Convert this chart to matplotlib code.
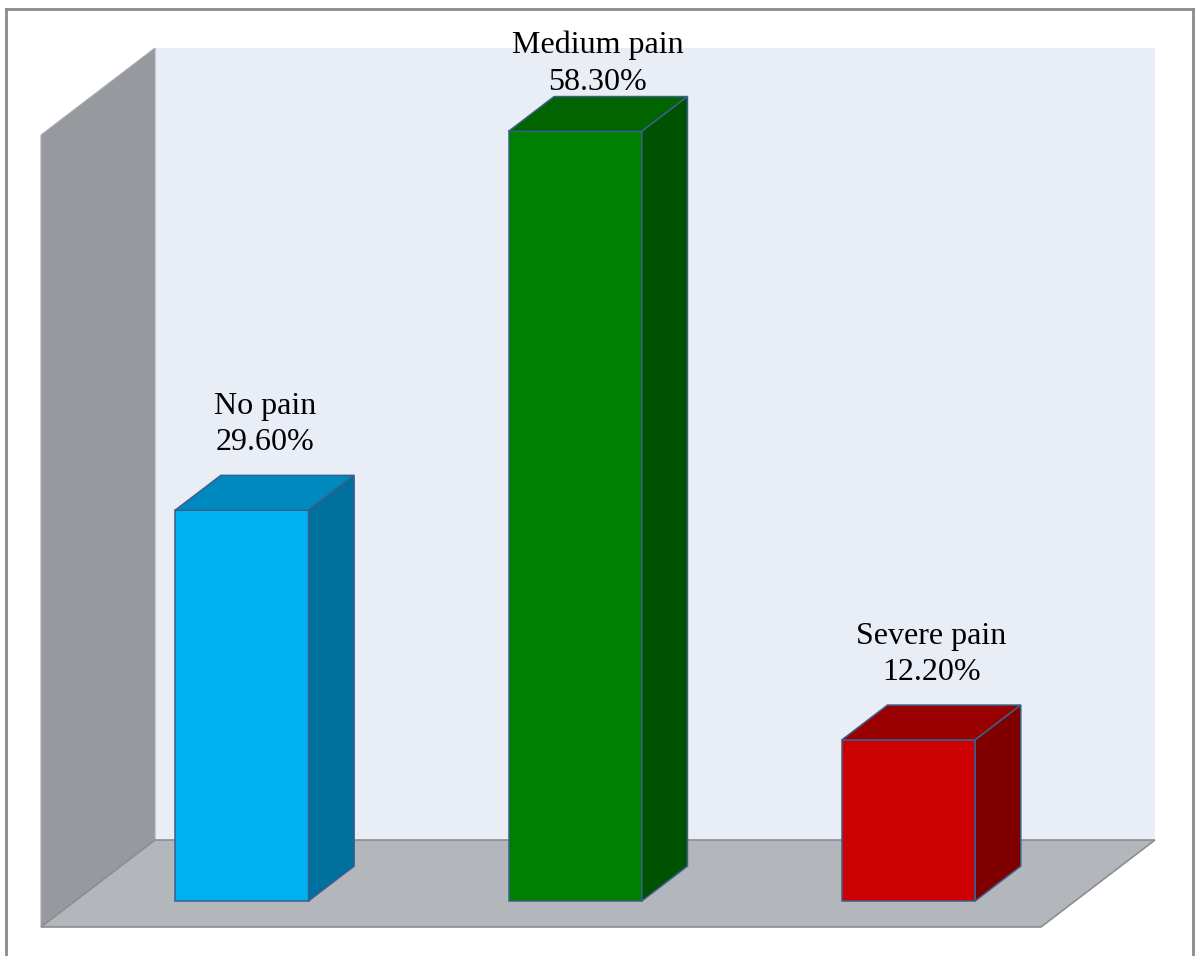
import matplotlib
matplotlib.use("Agg")
import matplotlib.pyplot as plt
from matplotlib.patches import Polygon
from matplotlib.lines import Line2D

# Data
categories = ["No pain", "Medium pain", "Severe pain"]
values = [29.6, 58.3, 12.2]
value_labels = ["29.60%", "58.30%", "12.20%"]
axis_max = 60

# Bar colours: (front, top, side)
bar_colors = [
    ("#00B0F0", "#0089BF", "#00709F"),
    ("#008000", "#006400", "#005200"),
    ("#CC0000", "#990000", "#800000"),
]
edge_color = "#3B5E8C"

W, H, DPI = 1198, 956, 100
fig = plt.figure(figsize=(W / DPI, H / DPI), dpi=DPI)
fig.patch.set_facecolor("white")
ax = fig.add_axes([0, 0, 1, 1])
ax.set_axis_off()

# Oblique projection: x in category slots, y in percent, depth d in [0, 1]
slot_px = 333.33
unit_px = 13.2
origin_px = (41, 927)          # front-left-bottom corner of the floor
depth_vec = (114 / slot_px, 87 / unit_px)
ax.set_xlim(-origin_px[0] / slot_px, (W - origin_px[0]) / slot_px)
ax.set_ylim(-(H - origin_px[1]) / unit_px, origin_px[1] / unit_px)


def P(x, v, d):
    return (x + d * depth_vec[0], v + d * depth_vec[1])


n = len(categories)

# Walls and floor
back = [P(0, 0, 1), P(n, 0, 1), P(n, axis_max, 1), P(0, axis_max, 1)]
left = [P(0, 0, 0), P(0, 0, 1), P(0, axis_max, 1), P(0, axis_max, 0)]
floor = [P(0, 0, 0), P(n, 0, 0), P(n, 0, 1), P(0, 0, 1)]
ax.add_patch(Polygon(back, closed=True, facecolor="#E9EDF6", edgecolor="none", zorder=1))
ax.add_patch(Polygon(left, closed=True, facecolor="#96999E", edgecolor="#A8AAAE", lw=0.8, zorder=2))
ax.add_patch(Polygon(floor, closed=True, facecolor="#B3B6BB", edgecolor="#8C8D90", lw=1.2, zorder=2))

# Bars
bar_w = 0.4
d0, d1 = 0.3, 0.7
label_pad = 2.7
label_ceiling = 62.9

for i, (cat, val, lab, cols) in enumerate(zip(categories, values, value_labels, bar_colors)):
    xl = i + 0.5 - bar_w / 2
    xr = i + 0.5 + bar_w / 2
    front = [P(xl, 0, d0), P(xr, 0, d0), P(xr, val, d0), P(xl, val, d0)]
    top = [P(xl, val, d0), P(xr, val, d0), P(xr, val, d1), P(xl, val, d1)]
    side = [P(xr, 0, d0), P(xr, 0, d1), P(xr, val, d1), P(xr, val, d0)]
    for poly, c in ((front, cols[0]), (top, cols[1]), (side, cols[2])):
        ax.add_patch(Polygon(poly, closed=True, facecolor=c, edgecolor=edge_color,
                             lw=1.1, joinstyle="miter", zorder=3 + i))
    cx, cy = P(i + 0.5, val, 0.5)
    ty = min(cy + label_pad, label_ceiling)
    ax.text(cx, ty, f"{cat}\n{lab}", ha="center", va="bottom",
            fontsize=23, family="Liberation Serif", color="black",
            linespacing=1.33, zorder=10)

# Chart frame
fx0, fx1, fy1 = 6 / W, 1193 / W, 1 - 9 / H
for xs, ys in (([fx0, fx0], [-0.01, fy1]), ([fx0, fx1], [fy1, fy1]), ([fx1, fx1], [fy1, -0.01])):
    fig.add_artist(Line2D(xs, ys, transform=fig.transFigure, color="#8A8A8A", lw=2.0))

fig.savefig("out.png", dpi=DPI, facecolor="white")
